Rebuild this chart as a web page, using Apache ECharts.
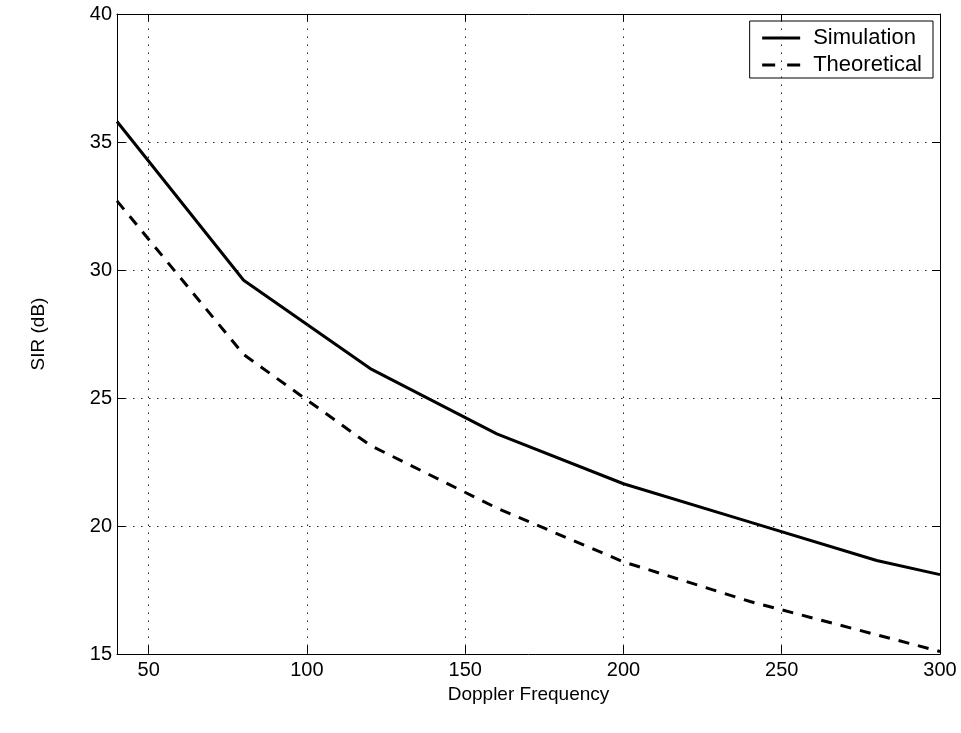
<!DOCTYPE html>
<html>
<head>
<meta charset="utf-8">
<script src="https://cdn.jsdelivr.net/npm/echarts@6/dist/echarts.min.js"></script>
<style>
  html, body { margin: 0; padding: 0; background: #fff; }
  #chart { width: 961px; height: 733px; }
</style>
</head>
<body>
<div id="chart"></div>
<script>
// Doppler frequency samples and the two SIR curves (dB)
const dopplerFreq = [40, 80, 120, 160, 200, 240, 280, 300];
const simulationSIR = [35.8, 29.6, 26.15, 23.6, 21.65, 20.15, 18.65, 18.1];
const theoreticalSIR = [32.7, 26.7, 23.15, 20.7, 18.6, 17.05, 15.75, 15.1];

// axis ticks
const xTicks = [50, 100, 150, 200, 250, 300];
const xGridLines = [50, 100, 150, 200, 250];

const FONT = '"Liberation Sans", Arial, Helvetica, sans-serif';
const dotted = { type: [1.5, 6.5], color: '#222', width: 1 };

const pairs = (xs, ys) => xs.map((x, i) => [x, ys[i]]);

const chart = echarts.init(document.getElementById('chart'));

const baseX = {
  type: 'value', min: 40, max: 300,
  axisLine: { show: true, onZero: false, lineStyle: { color: '#000', width: 1 } },
  axisTick: { show: true, inside: true, length: 8, customValues: xTicks, lineStyle: { color: '#000' } },
  splitLine: { show: false }
};
const baseY = {
  type: 'value', min: 15, max: 40, interval: 5,
  axisLine: { show: true, onZero: false, lineStyle: { color: '#000', width: 1 } },
  axisTick: { show: true, inside: true, length: 8, lineStyle: { color: '#000' } }
};

chart.setOption({
  animation: false,
  backgroundColor: '#fff',
  grid: { left: 117, right: 21, top: 14, bottom: 79, containLabel: false },
  xAxis: [
    Object.assign({}, baseX, {
      position: 'bottom',
      name: 'Doppler Frequency', nameLocation: 'middle', nameGap: 22,
      nameTextStyle: { fontFamily: FONT, fontSize: 19, color: '#000' },
      axisLabel: { show: true, customValues: xTicks, margin: 6, fontFamily: FONT, fontSize: 20, color: '#000' }
    }),
    Object.assign({}, baseX, { position: 'top', axisLabel: { show: false } })
  ],
  yAxis: [
    Object.assign({}, baseY, {
      position: 'left',
      name: 'SIR (dB)', nameLocation: 'middle', nameGap: 69, nameRotate: 90,
      nameTextStyle: { fontFamily: FONT, fontSize: 19, color: '#000' },
      axisLabel: { show: true, margin: 5, fontFamily: FONT, fontSize: 20, color: '#000' },
      splitLine: { show: true, lineStyle: dotted }
    }),
    Object.assign({}, baseY, { position: 'right', axisLabel: { show: false }, splitLine: { show: false } })
  ],
  legend: {
    orient: 'vertical',
    right: 28, top: 21,
    backgroundColor: '#fff',
    borderColor: '#000', borderWidth: 1, borderRadius: 0,
    padding: [6, 11, 2, 11],
    itemGap: 5,
    itemWidth: 38, itemHeight: 14,
    itemStyle: { opacity: 0 },
    textStyle: { fontFamily: FONT, fontSize: 22, color: '#000', padding: [0, 0, 0, 8] },
    data: [
      { name: 'Simulation', lineStyle: { color: '#000', width: 3, type: 'solid' } },
      { name: 'Theoretical', lineStyle: { color: '#000', width: 3, type: [13, 12] } }
    ]
  },
  series: [
    {
      name: 'Simulation', type: 'line',
      data: pairs(dopplerFreq, simulationSIR),
      symbol: 'none', smooth: false,
      lineStyle: { color: '#000', width: 3, type: 'solid' },
      itemStyle: { color: '#000' },
      markLine: {
        silent: true, symbol: ['none', 'none'],
        label: { show: false },
        lineStyle: dotted,
        data: xGridLines.map(v => ({ xAxis: v }))
      },
      z: 3
    },
    {
      name: 'Theoretical', type: 'line',
      data: pairs(dopplerFreq, theoreticalSIR),
      symbol: 'none', smooth: false,
      lineStyle: { color: '#000', width: 3, type: [11, 9] },
      itemStyle: { color: '#000' },
      z: 3
    }
  ]
});
</script>
</body>
</html>
